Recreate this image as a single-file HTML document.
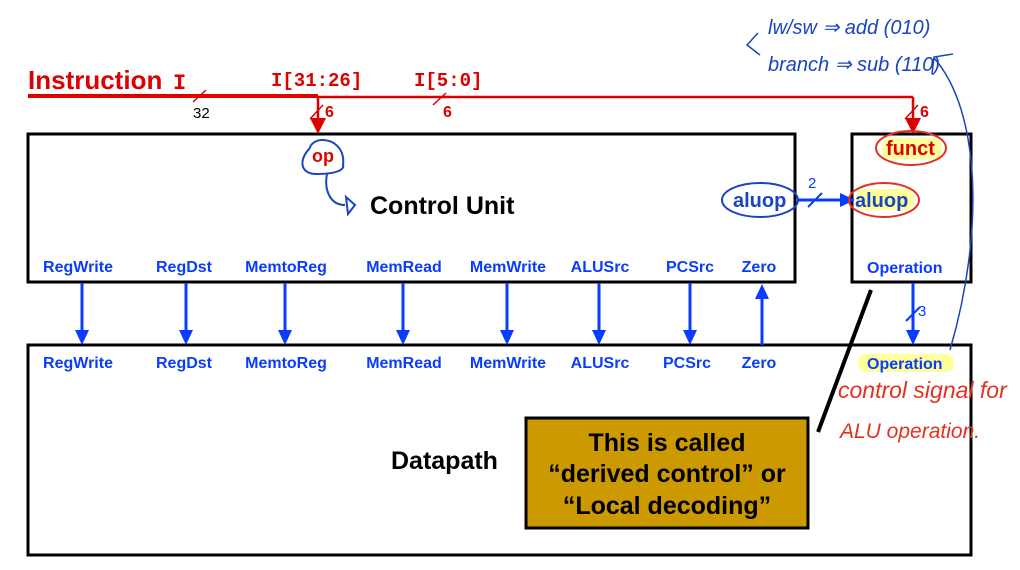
<!DOCTYPE html>
<html><head><meta charset="utf-8"><style>
html,body{margin:0;padding:0;background:#fff;width:1020px;height:570px;overflow:hidden}
svg{display:block}
.b{font-family:"Liberation Sans",sans-serif;font-weight:bold}
.sig{font-family:"Liberation Sans",sans-serif;font-weight:bold;font-size:16px;fill:#0a3cff}
.m{font-family:"Liberation Mono",monospace;font-weight:bold;fill:#dd0000}
.h{font-family:"Liberation Sans",sans-serif;fill:#1a44c0;font-style:italic}
</style></head><body>
<svg width="1020" height="570" viewBox="0 0 1020 570" xmlns="http://www.w3.org/2000/svg">
<!-- boxes -->
<rect x="28" y="134" width="767" height="148" fill="none" stroke="#000" stroke-width="3"/>
<rect x="852" y="134" width="119" height="148" fill="none" stroke="#000" stroke-width="3"/>
<rect x="28" y="345" width="943" height="210" fill="none" stroke="#000" stroke-width="3"/>
<!-- instruction line -->
<line x1="28" y1="96" x2="318" y2="96" stroke="#dd0000" stroke-width="4"/>
<line x1="318" y1="97" x2="913" y2="97" stroke="#dd0000" stroke-width="2.5"/>
<line x1="318" y1="96" x2="318" y2="120" stroke="#dd0000" stroke-width="2.5"/>
<path d="M310,118 L326,118 L318,134z" fill="#dd0000"/>
<line x1="913" y1="97" x2="913" y2="120" stroke="#dd0000" stroke-width="2.5"/>
<path d="M905,118 L921,118 L913,134z" fill="#dd0000"/>
<line x1="193" y1="102" x2="206" y2="90" stroke="#dd0000" stroke-width="1.5"/>
<line x1="310" y1="119" x2="323" y2="105" stroke="#dd0000" stroke-width="1.5"/>
<line x1="433" y1="105" x2="446" y2="93" stroke="#dd0000" stroke-width="1.5"/>
<line x1="905" y1="119" x2="918" y2="105" stroke="#dd0000" stroke-width="1.5"/>
<text x="28" y="89" class="b" font-size="26" fill="#dd0000">Instruction</text>
<text x="173" y="89" class="m" font-size="22">I</text>
<text x="271" y="86" class="m" font-size="19">I[31:26]</text>
<text x="414" y="86" class="m" font-size="19">I[5:0]</text>
<text x="193" y="118" font-family="Liberation Sans" font-size="15" fill="#000">32</text>
<text x="325" y="117" class="b" font-size="16" fill="#dd0000">6</text>
<text x="443" y="117" class="b" font-size="16" fill="#dd0000">6</text>
<text x="920" y="117" class="b" font-size="16" fill="#dd0000">6</text>
<!-- op -->
<path d="M310,148 C298,160 300,175 318,174 C335,174 345,170 343,165 C345,150 335,140 322,140 C315,140 310,145 310,148" fill="none" stroke="#1a44c0" stroke-width="2"/>
<text x="312" y="162" class="b" font-size="18" fill="#dd0000">op</text>
<path d="M327,174 C324,190 330,205 345,205" fill="none" stroke="#1a44c0" stroke-width="2"/>
<path d="M346,197 L355,205 L348,214z" fill="none" stroke="#1a44c0" stroke-width="2"/>
<text x="370" y="214" class="b" font-size="25" fill="#000">Control Unit</text>
<!-- aluop -->
<ellipse cx="760" cy="200" rx="38" ry="17" fill="none" stroke="#1a44c0" stroke-width="2"/>
<text x="733" y="207" class="b" font-size="20" fill="#1a44c0">aluop</text>
<line x1="797" y1="200" x2="845" y2="200" stroke="#0a3cff" stroke-width="3"/>
<path d="M840,193 L855,200 L840,207z" fill="#0a3cff"/>
<line x1="808" y1="207" x2="822" y2="193" stroke="#0a3cff" stroke-width="2"/>
<text x="808" y="188" font-family="Liberation Sans" font-size="15" fill="#0a3cff">2</text>
<rect x="856" y="189" width="58" height="21" rx="9" fill="#ffff99"/>
<ellipse cx="884" cy="200" rx="35" ry="17" fill="none" stroke="#e53020" stroke-width="2"/>
<text x="855" y="207" class="b" font-size="20" fill="#1a44c0">aluop</text>
<rect x="882" y="138" width="60" height="21" rx="9" fill="#ffff99"/>
<ellipse cx="911" cy="148" rx="35" ry="17" fill="none" stroke="#e53020" stroke-width="2"/>
<text x="886" y="155" class="b" font-size="20" fill="#dd0000">funct</text>
<text x="867" y="273" class="sig" font-size="18">Operation</text>
<!-- control signals -->
<g text-anchor="middle">
<text x="78" y="272" class="sig">RegWrite</text><text x="184" y="272" class="sig">RegDst</text>
<text x="286" y="272" class="sig">MemtoReg</text><text x="404" y="272" class="sig">MemRead</text>
<text x="508" y="272" class="sig">MemWrite</text><text x="600" y="272" class="sig">ALUSrc</text>
<text x="690" y="272" class="sig">PCSrc</text><text x="759" y="272" class="sig">Zero</text>
<text x="78" y="368" class="sig">RegWrite</text><text x="184" y="368" class="sig">RegDst</text>
<text x="286" y="368" class="sig">MemtoReg</text><text x="404" y="368" class="sig">MemRead</text>
<text x="508" y="368" class="sig">MemWrite</text><text x="600" y="368" class="sig">ALUSrc</text>
<text x="687" y="368" class="sig">PCSrc</text><text x="759" y="368" class="sig">Zero</text>
</g>
<g stroke="#0a3cff" stroke-width="3">
<line x1="82" y1="283" x2="82" y2="334"/><line x1="186" y1="283" x2="186" y2="334"/>
<line x1="285" y1="283" x2="285" y2="334"/><line x1="403" y1="283" x2="403" y2="334"/>
<line x1="507" y1="283" x2="507" y2="334"/><line x1="599" y1="283" x2="599" y2="334"/>
<line x1="690" y1="283" x2="690" y2="334"/><line x1="913" y1="283" x2="913" y2="334"/>
<line x1="762" y1="345" x2="762" y2="296"/>
</g>
<g fill="#0a3cff">
<path d="M75,330 L89,330 L82,345z"/><path d="M179,330 L193,330 L186,345z"/>
<path d="M278,330 L292,330 L285,345z"/><path d="M396,330 L410,330 L403,345z"/>
<path d="M500,330 L514,330 L507,345z"/><path d="M592,330 L606,330 L599,345z"/>
<path d="M683,330 L697,330 L690,345z"/><path d="M906,330 L920,330 L913,345z"/>
<path d="M755,299 L769,299 L762,284z"/>
</g>
<line x1="906" y1="321" x2="920" y2="307" stroke="#0a3cff" stroke-width="2"/>
<text x="918" y="316" font-family="Liberation Sans" font-size="15" fill="#0a3cff">3</text>
<rect x="858" y="354" width="96" height="18" rx="8" fill="#ffff99"/>
<text x="867" y="369" class="sig" font-size="18" fill="#1a3cb0">Operation</text>
<!-- datapath -->
<text x="391" y="469" class="b" font-size="25" fill="#000">Datapath</text>
<rect x="526" y="418" width="282" height="110" fill="#cc9900" stroke="#000" stroke-width="3"/>
<g text-anchor="middle" class="b" font-size="25" fill="#000">
<text x="667" y="451">This is called</text>
<text x="667" y="482">“derived control” or</text>
<text x="667" y="514">“Local decoding”</text>
</g>
<line x1="871" y1="290" x2="818" y2="432" stroke="#000" stroke-width="4"/>
<!-- handwriting -->
<text x="768" y="34" class="h" font-size="20">lw/sw ⇒ add (010)</text>
<text x="768" y="71" class="h" font-size="20">branch ⇒ sub (110)</text>
<path d="M758,33 L747,45 L760,55" fill="none" stroke="#1a44c0" stroke-width="1.5"/>
<path d="M932,74 L934,57 L953,54 M934,58 C980,110 985,230 950,350" fill="none" stroke="#1a44c0" stroke-width="1.5"/>
<text x="838" y="398" font-family="Liberation Sans" font-style="italic" font-size="23" fill="#e53020">control signal for</text>
<text x="840" y="438" font-family="Liberation Sans" font-style="italic" font-size="21" fill="#e53020">ALU operation.</text>
</svg>
</body></html>
